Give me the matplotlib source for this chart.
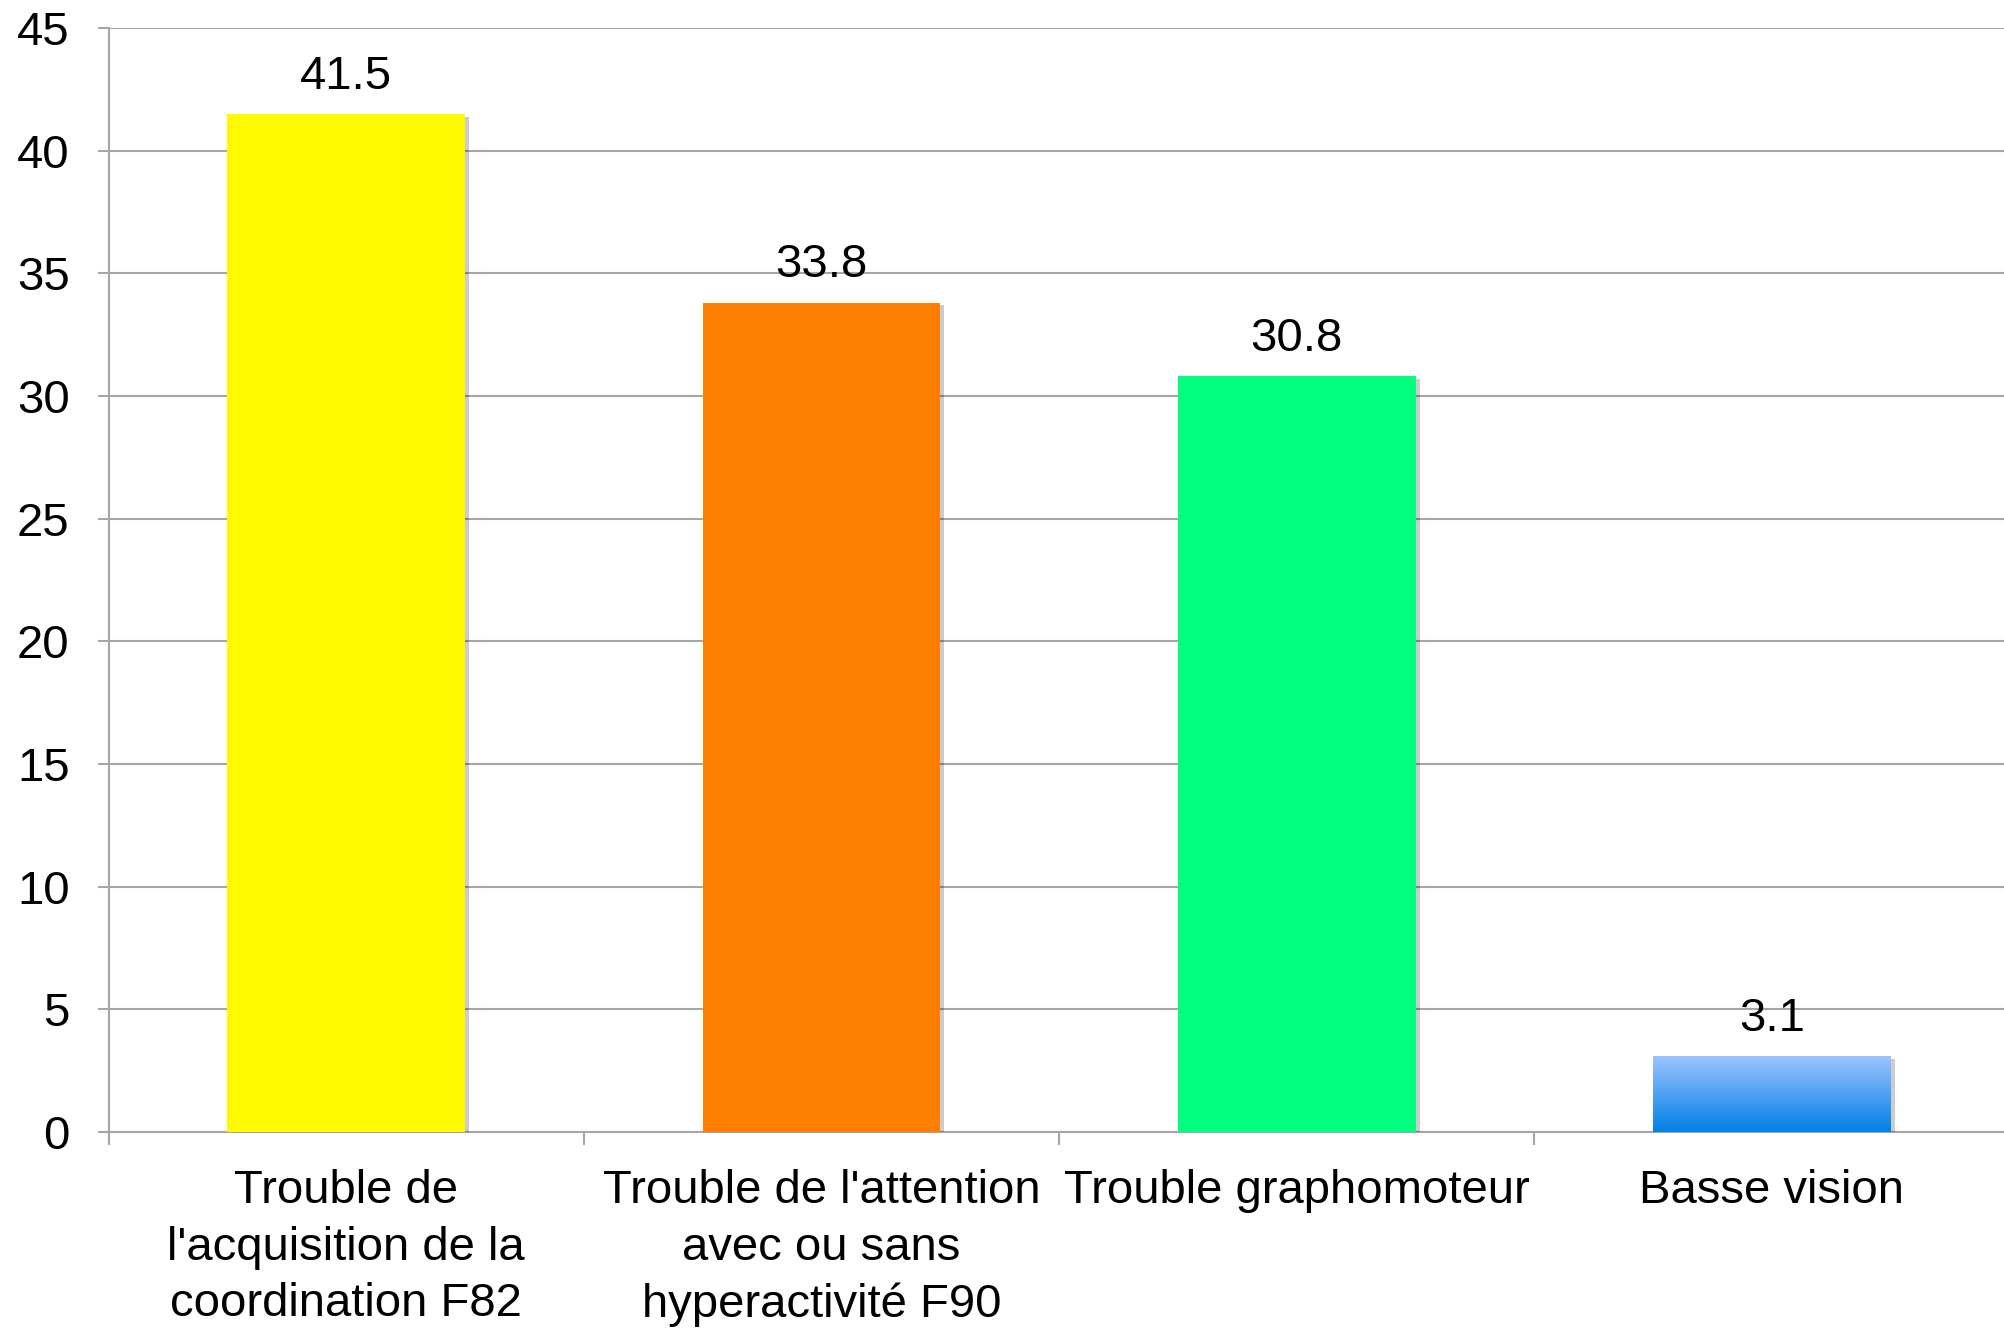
import matplotlib.pyplot as plt
import matplotlib.patheffects as pe
import numpy as np
from matplotlib.colors import LinearSegmentedColormap

plt.rcParams['font.family'] = ['Liberation Sans', 'DejaVu Sans']

categories = ["Trouble de\nl'acquisition de la\ncoordination F82",
              "Trouble de l'attention\navec ou sans\nhyperactivité F90",
              "Trouble graphomoteur",
              "Basse vision"]
values = [41.5, 33.8, 30.8, 3.1]
colors = ['#FFF900', '#FF7F00', '#00FF7F', '#3A95F0']
yticks = [0, 5, 10, 15, 20, 25, 30, 35, 40, 45]

fs = 34
grey = '#A6A6A6'

fig = plt.figure(figsize=(20.04, 13.30), dpi=100)
ax = fig.add_axes([0.0542, 0.149, 0.9486, 0.830])

x = np.arange(len(categories))
shadow = [pe.SimplePatchShadow(offset=(3, -2), shadow_rgbFace='k', alpha=0.2), pe.Normal()]
bars = ax.bar(x, values, width=0.5, color=colors, zorder=3, path_effects=shadow)

# degrade bleu sur la derniere barre
b = bars[3]
cmap = LinearSegmentedColormap.from_list('bleu', ['#0080E6', '#9EC4FF'])
grad = np.linspace(0, 1, 256).reshape(-1, 1)
im = ax.imshow(grad, cmap=cmap, origin='lower', aspect='auto', zorder=4,
               extent=[b.get_x(), b.get_x() + b.get_width(), 0, b.get_height()])
im.set_clip_path(b)

for xi, v in zip(x, values):
    ax.annotate(f'{v}', (xi, v), xytext=(0, 11), textcoords='offset points',
                ha='center', va='bottom', fontsize=fs, zorder=5)

ax.set_xlim(-0.5, len(categories) - 0.5)
ax.set_ylim(0, 45)
ax.set_yticks(yticks)
ax.set_yticklabels([str(t) for t in yticks], fontsize=fs)
ax.yaxis.grid(True, color=grey, linewidth=1.5, zorder=0)
ax.set_axisbelow(True)

ax.set_xticks(x)
ax.set_xticklabels(categories, fontsize=fs, linespacing=1.37)
ax.set_xticks(np.arange(len(categories) + 1) - 0.5, minor=True)
ax.tick_params(axis='x', which='major', length=0, pad=27)
ax.tick_params(axis='x', which='minor', length=9, width=1.5, color=grey)
ax.tick_params(axis='y', length=8, width=1.5, color=grey, pad=20)

for s in ['top', 'right']:
    ax.spines[s].set_visible(False)
for s in ['left', 'bottom']:
    ax.spines[s].set_color(grey)
    ax.spines[s].set_linewidth(1.5)

fig.savefig('out.png', dpi=100)
